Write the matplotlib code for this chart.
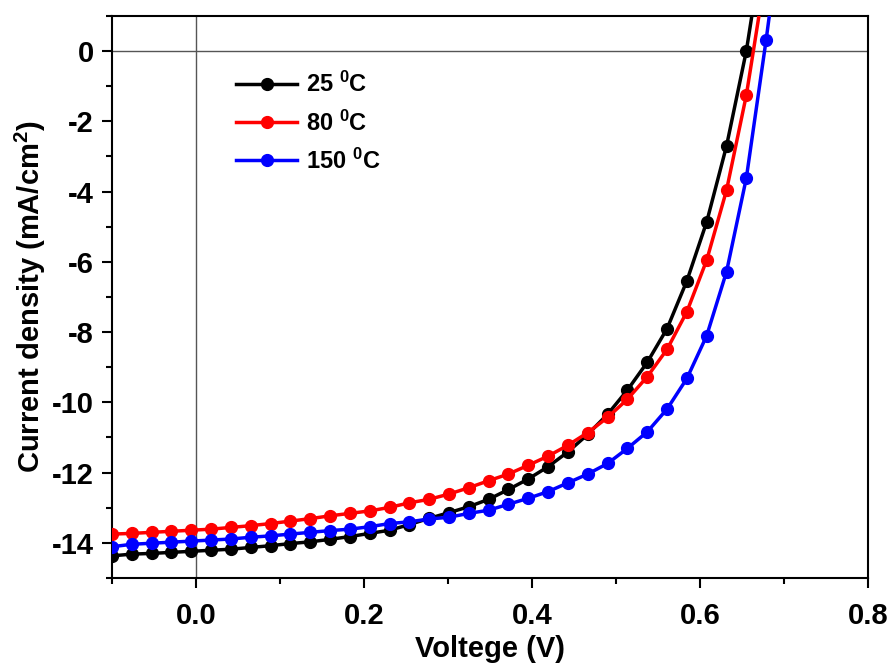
'''
J-V curves at three annealing temperatures
'''

import matplotlib as mpl
mpl.use('Agg')
import matplotlib.pyplot as plt
import numpy as np

#set plotting defaults
mpl.rcParams['font.family'] = 'Liberation Sans'
mpl.rcParams['font.weight'] = 'bold'
mpl.rcParams['mathtext.fontset'] = 'custom'
mpl.rcParams['mathtext.rm'] = 'Liberation Sans:bold'
mpl.rcParams['mathtext.bf'] = 'Liberation Sans:bold'
mpl.rcParams['mathtext.default'] = 'bf'
mpl.rcParams['axes.unicode_minus'] = False
mpl.rcParams['axes.linewidth'] = 1.5

# voltage points (V), last one sits above the plot window
v_step = 0.0236
voltage = -0.1 + v_step*np.arange(35)

# current density (mA/cm2)
j_25 = [-14.37, -14.32, -14.30, -14.27, -14.24, -14.21, -14.18, -14.13, -14.08,
        -14.02, -13.97, -13.90, -13.82, -13.73, -13.64, -13.48, -13.30, -13.14,
        -12.97, -12.76, -12.48, -12.18, -11.83, -11.41, -10.91, -10.34, -9.65,
        -8.86, -7.90, -6.54, -4.86, -2.70, 0.01, 3.6]
j_80 = [-13.75, -13.73, -13.70, -13.67, -13.64, -13.61, -13.56, -13.51, -13.45,
        -13.38, -13.31, -13.23, -13.16, -13.09, -12.99, -12.86, -12.76, -12.61,
        -12.43, -12.23, -12.04, -11.79, -11.53, -11.22, -10.86, -10.43, -9.91,
        -9.27, -8.49, -7.42, -5.95, -3.96, -1.25, 2.3]
j_150 = [-14.11, -14.04, -14.01, -13.98, -13.95, -13.92, -13.89, -13.84, -13.80,
         -13.75, -13.70, -13.65, -13.61, -13.54, -13.45, -13.40, -13.32, -13.27,
         -13.16, -13.07, -12.90, -12.73, -12.54, -12.29, -12.04, -11.74, -11.31,
         -10.84, -10.19, -9.32, -8.10, -6.28, -3.61, 0.33, 4.6]

labels = ['25 $^{0}$C', '80 $^{0}$C', '150 $^{0}$C']
colors = ['k', '#ff0000', '#0000ff']

# make plot
fig = plt.figure(figsize=(8.93, 6.63), dpi=100)
ax = fig.add_axes([0.1254, 0.1282, 0.8466, 0.8477])

#zero lines
ax.axhline(0, color='#555555', linewidth=1, zorder=1)
ax.axvline(0, color='#555555', linewidth=1, zorder=1)

for j, lab, c in zip([j_25, j_80, j_150], labels, colors):
	ax.plot(voltage[:len(j)], j, '-o',
		color=c,
		linewidth=2.5,
		markersize=8.5,
		label=lab,
		zorder=3)

#axis limits and ticks
ax.set_xlim([-0.1, 0.8])
ax.set_ylim([-15, 1])
ax.set_xticks(np.arange(0, 0.81, 0.2))
ax.set_xticks(np.arange(-0.1, 0.81, 0.1), minor=True)
ax.set_yticks(np.arange(-14, 0.1, 2))
ax.set_yticks(np.arange(-15, 1.1, 1), minor=True)
ax.xaxis.set_major_formatter(mpl.ticker.FormatStrFormatter('%.1f'))
ax.tick_params(which='major', direction='out', length=7, width=1.5,
	labelsize=21, top=False, right=False, pad=6)
ax.tick_params(axis='x', which='major', pad=10)
ax.tick_params(which='minor', direction='out', length=4, width=1.5,
	top=False, right=False)

#axis labels
ax.set_xlabel('Voltege (V)', fontsize=21, fontweight='bold', labelpad=4)
ax.set_ylabel('Current density (mA/cm$^{2}$)', fontsize=21, fontweight='bold', labelpad=3)

#legend
ax.legend(loc='upper left',
	bbox_to_anchor=(0.164, 0.9),
	frameon=False,
	fontsize=17,
	handlelength=2.6,
	handletextpad=0.35,
	labelspacing=0.55,
	borderpad=0,
	borderaxespad=0)

fig.savefig('out.png', dpi=100)
